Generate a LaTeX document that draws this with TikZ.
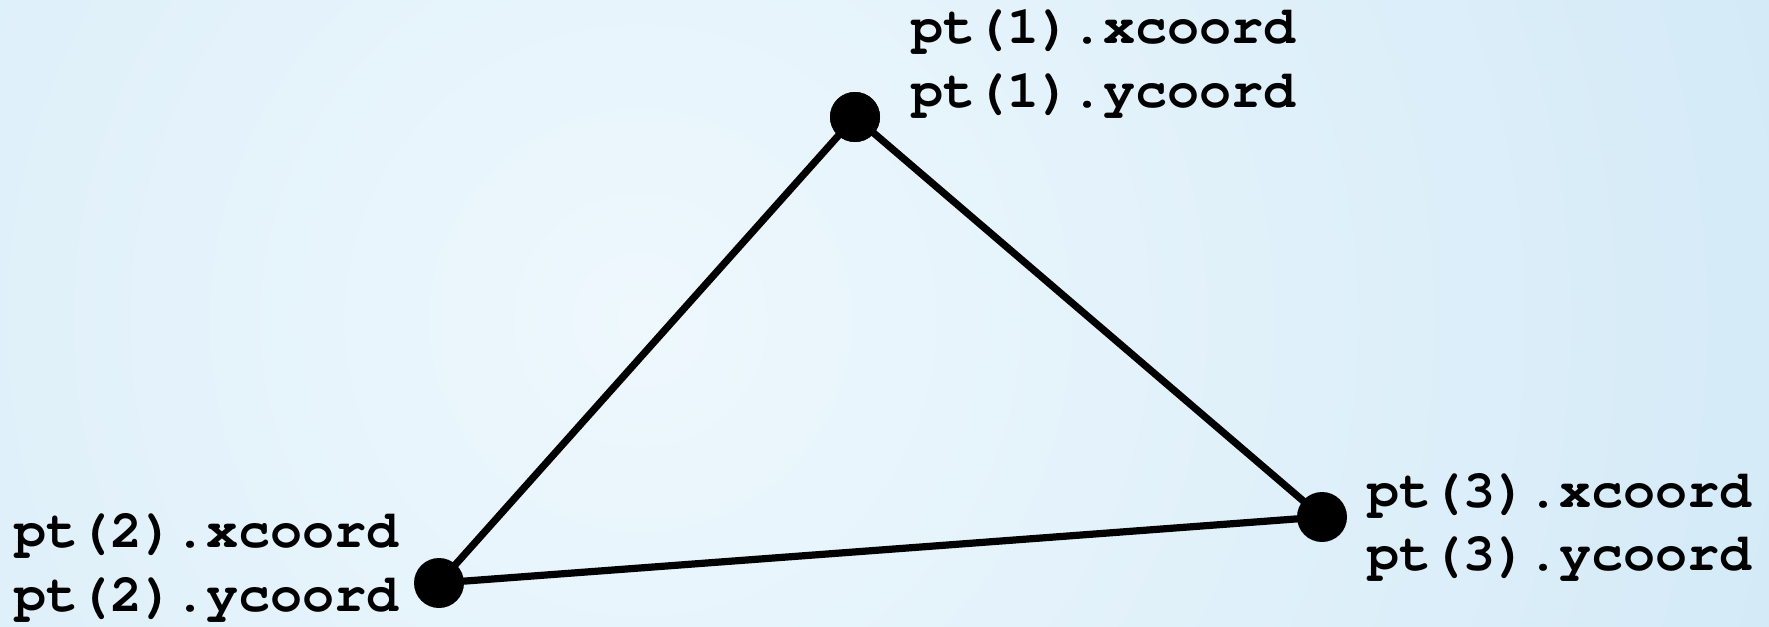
\documentclass[tikz,border=0pt]{standalone}
\usepackage[T1]{fontenc}
\definecolor{bgin}{RGB}{238,248,253}
\definecolor{bgout}{RGB}{184,219,241}
\newcommand{\courbold}{\fontencoding{T1}\fontfamily{pcr}\fontseries{b}\fontshape{n}\fontsize{26.7pt}{32pt}\selectfont}
\begin{document}
\begin{tikzpicture}[x=0.5pt,y=-0.5pt,
  dot/.style={circle,fill=black,inner sep=0pt,minimum size=25pt},
  edge/.style={line width=3.6pt,black},
  lbl/.style={anchor=base west,inner sep=0pt,font=\courbold}]
\useasboundingbox (0,0) rectangle (1769,627);
\begin{scope}
\clip (0,0) rectangle (1769,627);
\shade[inner color=bgin,outer color=bgout] (640,320) circle (2450);
\end{scope}
\node[dot] (p1) at (855,117) {};
\node[dot] (p2) at (439,583) {};
\node[dot] (p3) at (1322,517) {};
\draw[edge] (p1.center) -- (p2.center) -- (p3.center) -- cycle;
\node[dot] at (p1) {};
\node[lbl] (l1x) at (911,43) {pt(1).xcoord};
\node[lbl] (l1y) at (911,107) {pt(1).ycoord};
\node[lbl] (l2x) at (14,547) {pt(2).xcoord};
\node[lbl] (l2y) at (14,611) {pt(2).ycoord};
\node[lbl] (l3x) at (1367,507) {pt(3).xcoord};
\node[lbl] (l3y) at (1367,570) {pt(3).ycoord};
\end{tikzpicture}
\end{document}
